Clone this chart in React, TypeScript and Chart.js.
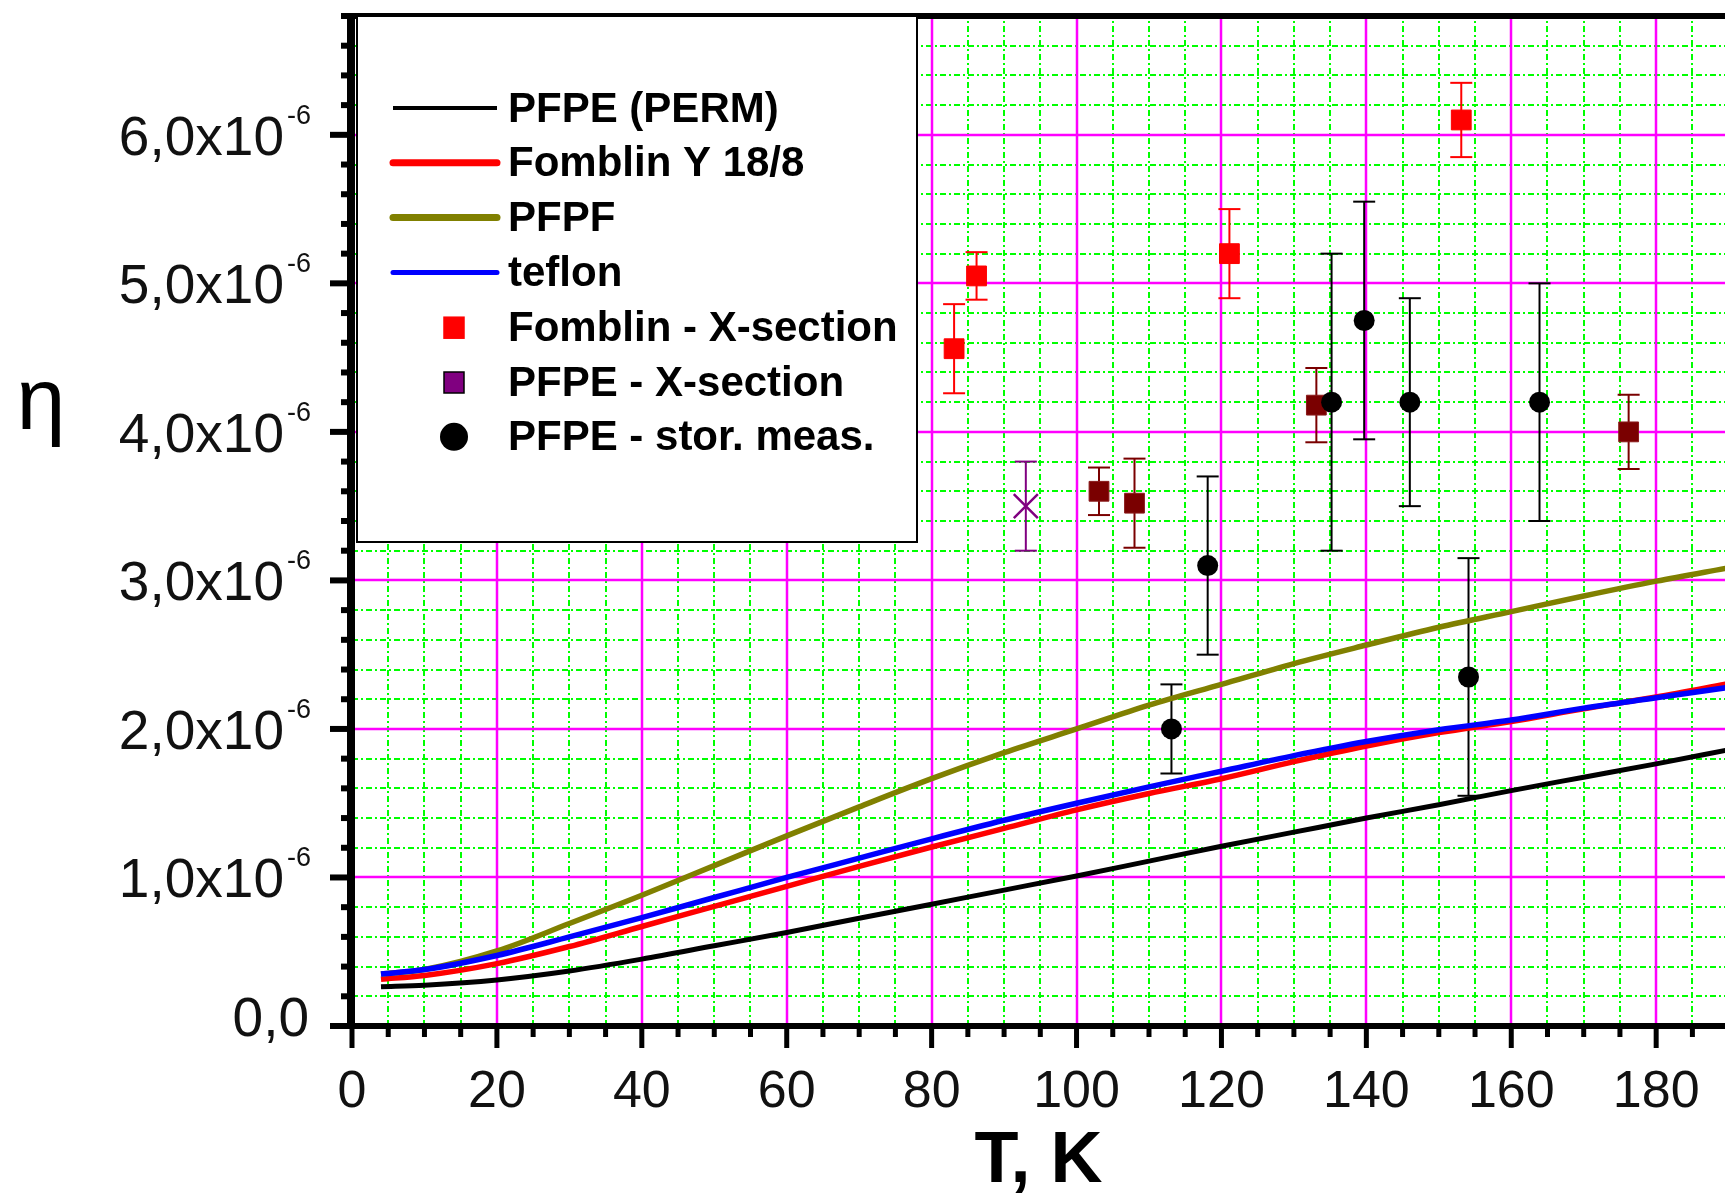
import React, { useEffect, useRef } from 'react';
import { Chart, registerables } from 'chart.js';

Chart.register(...registerables);

const FONT = '"Liberation Sans", Arial, Helvetica, sans-serif';

// ---------------- axes (eta is expressed in units of 1e-6) ----------------
const X_MIN = 0;
const X_MAX = 189.5;
const Y_MIN = 0;
const Y_MAX = 6.8;
const X_MINOR_STEP = 5;
const X_MAJOR_EVERY = 4; // 20 K
const Y_MINOR_STEP = 0.2;
const Y_MAJOR_EVERY = 5; // 1e-6
const yTickValues = [0, 1, 2, 3, 4, 5, 6];
const yTickMantissa = ['0,0', '1,0x10', '2,0x10', '3,0x10', '4,0x10', '5,0x10', '6,0x10'];
const yTickExponent = ['', '-6', '-6', '-6', '-6', '-6', '-6'];
const xTitle = 'T, K';
const yTitle = 'η';

// ---------------- series labels ----------------
const LBL_PERM = 'PFPE (PERM)';
const LBL_FOMBLIN = 'Fomblin Y 18/8';
const LBL_PFPF = 'PFPF';
const LBL_TEFLON = 'teflon';
const LBL_FOMBLIN_X = 'Fomblin - X-section';
const LBL_PFPE_X = 'PFPE - X-section';
const LBL_STOR = 'PFPE - stor. meas.';

// ---------------- curves ----------------
const curveT = [4, 10, 20, 30, 40, 50, 60, 70, 80, 90, 100, 110, 120, 130, 140, 150, 160, 170, 180, 190];
const pfpePerm = [0.265, 0.275, 0.31, 0.37, 0.45, 0.54, 0.63, 0.725, 0.82, 0.915, 1.01, 1.11, 1.21, 1.305, 1.4, 1.49, 1.585, 1.675, 1.765, 1.86];
const fomblinY = [0.315, 0.34, 0.42, 0.535, 0.67, 0.805, 0.94, 1.075, 1.205, 1.33, 1.455, 1.565, 1.665, 1.78, 1.885, 1.975, 2.05, 2.135, 2.215, 2.305];
const pfpf = [0.35, 0.38, 0.505, 0.69, 0.88, 1.08, 1.28, 1.475, 1.665, 1.84, 2.0, 2.16, 2.3, 2.44, 2.565, 2.685, 2.79, 2.895, 2.995, 3.085];
const teflon = [0.35, 0.38, 0.475, 0.6, 0.73, 0.865, 1.0, 1.13, 1.26, 1.385, 1.5, 1.61, 1.715, 1.82, 1.915, 1.995, 2.06, 2.14, 2.21, 2.28];

// ---------------- measured points ----------------
const fomblinXT = [83.1, 86.2, 121.1, 153.1];
const fomblinXEta = [4.56, 5.05, 5.2, 6.1];
const fomblinXErr = [0.3, 0.16, 0.3, 0.25];

const pfpeXT = [93.0];
const pfpeXEta = [3.5];
const pfpeXErr = [0.3];

const maroonT = [103.1, 108.0, 133.1, 176.2];
const maroonEta = [3.6, 3.52, 4.18, 4.0];
const maroonErr = [0.16, 0.3, 0.25, 0.25];

const storT = [113.1, 118.1, 135.2, 139.7, 146.0, 154.1, 163.9];
const storEta = [2.0, 3.1, 4.2, 4.75, 4.2, 2.35, 4.2];
const storErr = [0.3, 0.6, 1.0, 0.8, 0.7, 0.8, 0.8];

const RED = '#ff0000';
const OLIVE = '#808000';
const BLUE = '#0000ff';
const PURPLE = '#800080';
const MAROON = '#7a0000';

const pts = (xs: number[], ys: number[]) => xs.map((x, i) => ({ x, y: ys[i] }));

const errorSets = [
  { t: maroonT, v: maroonEta, e: maroonErr, color: MAROON },
  { t: fomblinXT, v: fomblinXEta, e: fomblinXErr, color: RED },
  { t: pfpeXT, v: pfpeXEta, e: pfpeXErr, color: PURPLE },
  { t: storT, v: storEta, e: storErr, color: '#000000' },
];

const legendItems = [
  { label: LBL_PERM, kind: 'line', color: '#000000', width: 4 },
  { label: LBL_FOMBLIN, kind: 'line', color: RED, width: 7 },
  { label: LBL_PFPF, kind: 'line', color: OLIVE, width: 7 },
  { label: LBL_TEFLON, kind: 'line', color: BLUE, width: 5 },
  { label: LBL_FOMBLIN_X, kind: 'square', color: RED, border: RED },
  { label: LBL_PFPE_X, kind: 'square', color: PURPLE, border: '#000000' },
  { label: LBL_STOR, kind: 'circle', color: '#000000', border: '#000000' },
];

const decor = {
  id: 'decor',
  beforeDatasetsDraw(chart: any) {
    const { ctx, chartArea: a, scales } = chart;
    const x = scales.x;
    const y = scales.y;
    ctx.save();
    ctx.beginPath();
    ctx.rect(a.left, a.top, a.right - a.left, a.bottom - a.top);
    ctx.clip();
    const seg = (x1: number, y1: number, x2: number, y2: number) => {
      ctx.beginPath();
      ctx.moveTo(x1, y1);
      ctx.lineTo(x2, y2);
      ctx.stroke();
    };
    // minor grid (green dash-dot)
    ctx.strokeStyle = '#00ff00';
    ctx.lineWidth = 2;
    ctx.setLineDash([6, 3, 2, 3]);
    for (let i = 1; i * X_MINOR_STEP <= X_MAX; i++) {
      if (i % X_MAJOR_EVERY === 0) continue;
      const px = Math.round(x.getPixelForValue(i * X_MINOR_STEP));
      seg(px, a.bottom, px, a.top);
    }
    for (let i = 1; i * Y_MINOR_STEP <= Y_MAX + 1e-9; i++) {
      if (i % Y_MAJOR_EVERY === 0) continue;
      const py = Math.round(y.getPixelForValue(i * Y_MINOR_STEP));
      seg(a.left, py, a.right, py);
    }
    // major grid (magenta)
    ctx.setLineDash([]);
    ctx.strokeStyle = '#ff00ff';
    ctx.lineWidth = 2.5;
    for (let i = X_MAJOR_EVERY; i * X_MINOR_STEP <= X_MAX; i += X_MAJOR_EVERY) {
      const px = Math.round(x.getPixelForValue(i * X_MINOR_STEP));
      seg(px, a.bottom, px, a.top);
    }
    for (let i = Y_MAJOR_EVERY; i * Y_MINOR_STEP <= Y_MAX + 1e-9; i += Y_MAJOR_EVERY) {
      const py = Math.round(y.getPixelForValue(i * Y_MINOR_STEP));
      seg(a.left, py, a.right, py);
    }
    // error bars
    ctx.lineWidth = 2;
    const cap = 11;
    errorSets.forEach((s) => {
      ctx.strokeStyle = s.color;
      s.t.forEach((t, i) => {
        const px = x.getPixelForValue(t);
        const yt = y.getPixelForValue(s.v[i] + s.e[i]);
        const yb = y.getPixelForValue(s.v[i] - s.e[i]);
        seg(px, yt, px, yb);
        seg(px - cap, yt, px + cap, yt);
        seg(px - cap, yb, px + cap, yb);
      });
    });
    ctx.restore();
  },
  afterDraw(chart: any) {
    const { ctx, chartArea: a, scales, width } = chart;
    const x = scales.x;
    const y = scales.y;
    ctx.save();
    const seg = (x1: number, y1: number, x2: number, y2: number) => {
      ctx.beginPath();
      ctx.moveTo(x1, y1);
      ctx.lineTo(x2, y2);
      ctx.stroke();
    };
    ctx.strokeStyle = '#000';
    ctx.lineCap = 'butt';
    // ticks on y axis
    ctx.lineWidth = 6;
    for (let i = 0; i * Y_MINOR_STEP <= Y_MAX + 1e-9; i++) {
      const py = y.getPixelForValue(i * Y_MINOR_STEP);
      const len = i % Y_MAJOR_EVERY === 0 ? 22 : 11;
      seg(a.left - len, py, a.left, py);
    }
    // ticks on x axis
    ctx.lineWidth = 5;
    for (let i = 0; i * X_MINOR_STEP <= X_MAX; i++) {
      const px = x.getPixelForValue(i * X_MINOR_STEP);
      const len = i % X_MAJOR_EVERY === 0 ? 22 : 11;
      seg(px, a.bottom, px, a.bottom + len);
    }
    // frame
    ctx.lineWidth = 8;
    seg(a.left - 1, a.top - 3, a.left - 1, a.bottom + 3);
    ctx.lineWidth = 6;
    seg(a.left - 5, a.bottom, width, a.bottom);
    seg(a.left - 5, a.top, width, a.top);

    // y tick labels with exponent
    ctx.fillStyle = '#111';
    ctx.textBaseline = 'alphabetic';
    yTickValues.forEach((v, i) => {
      const py = y.getPixelForValue(v);
      if (yTickExponent[i]) {
        ctx.font = `55px ${FONT}`;
        ctx.textAlign = 'right';
        ctx.fillText(yTickMantissa[i], a.left - 68, py + 20);
        ctx.font = `27px ${FONT}`;
        ctx.textAlign = 'left';
        ctx.fillText(yTickExponent[i], a.left - 65, py - 11);
      } else {
        ctx.font = `55px ${FONT}`;
        ctx.textAlign = 'right';
        ctx.fillText(yTickMantissa[i], a.left - 43, py + 10);
      }
    });

    // y title
    ctx.font = `88px ${FONT}`;
    ctx.textAlign = 'center';
    ctx.fillStyle = '#000';
    ctx.fillText(yTitle, 41, 429);

    // legend box
    const lx = a.left + 5;
    const ly = a.top;
    const lw = 560;
    const lh = 526;
    ctx.fillStyle = '#fff';
    ctx.fillRect(lx, ly, lw, lh);
    ctx.strokeStyle = '#000';
    ctx.lineWidth = 2;
    ctx.strokeRect(lx, ly, lw, lh);
    legendItems.forEach((it: any, i) => {
      const ry = ly + 92 + i * 54.8;
      if (it.kind === 'line') {
        ctx.strokeStyle = it.color;
        ctx.lineWidth = it.width;
        ctx.lineCap = it.width > 4 ? 'round' : 'butt';
        seg(lx + 36, ry, lx + 140, ry);
      } else if (it.kind === 'square') {
        ctx.fillStyle = it.color;
        ctx.fillRect(lx + 87, ry - 10, 20, 21);
        ctx.strokeStyle = it.border;
        ctx.lineWidth = 1.5;
        ctx.strokeRect(lx + 87, ry - 10, 20, 21);
      } else {
        ctx.fillStyle = it.color;
        ctx.beginPath();
        ctx.arc(lx + 97, ry, 14, 0, Math.PI * 2);
        ctx.fill();
      }
      ctx.fillStyle = '#000';
      ctx.font = `bold 42px ${FONT}`;
      ctx.textAlign = 'left';
      ctx.textBaseline = 'middle';
      ctx.fillText(it.label, lx + 151, ry + 2);
    });
    ctx.restore();
  },
};

export default function App() {
  const ref = useRef<HTMLCanvasElement | null>(null);
  useEffect(() => {
    if (!ref.current) return;
    const lineDs = (label: string, data: number[], color: string, width: number, order: number) => ({
      label,
      data: pts(curveT, data),
      borderColor: color,
      backgroundColor: color,
      borderWidth: width,
      pointRadius: 0,
      cubicInterpolationMode: 'monotone',
      fill: false,
      order,
    });
    const chart = new Chart(ref.current, {
      type: 'line',
      data: {
        datasets: [
          lineDs(LBL_PERM, pfpePerm, '#000000', 5, 8),
          lineDs(LBL_FOMBLIN, fomblinY, RED, 5.5, 7),
          lineDs(LBL_PFPF, pfpf, OLIVE, 5.5, 6),
          lineDs(LBL_TEFLON, teflon, BLUE, 5.5, 5),
          {
            label: 'PFPE - X-section (maroon)',
            data: pts(maroonT, maroonEta),
            showLine: false,
            pointStyle: 'rect',
            pointRadius: 14,
            pointBackgroundColor: MAROON,
            pointBorderColor: '#8a1a1a',
            pointBorderWidth: 1,
            order: 4,
          },
          {
            label: LBL_FOMBLIN_X,
            data: pts(fomblinXT, fomblinXEta),
            showLine: false,
            pointStyle: 'rect',
            pointRadius: 14,
            pointBackgroundColor: RED,
            pointBorderColor: RED,
            pointBorderWidth: 1,
            order: 3,
          },
          {
            label: LBL_PFPE_X,
            data: pts(pfpeXT, pfpeXEta),
            showLine: false,
            pointStyle: 'crossRot',
            pointRadius: 17,
            pointBackgroundColor: PURPLE,
            pointBorderColor: PURPLE,
            pointBorderWidth: 2.5,
            order: 2,
          },
          {
            label: LBL_STOR,
            data: pts(storT, storEta),
            showLine: false,
            pointStyle: 'circle',
            pointRadius: 10.5,
            pointBackgroundColor: '#000000',
            pointBorderColor: '#000000',
            pointBorderWidth: 0,
            order: 1,
          },
        ],
      } as any,
      options: {
        responsive: false,
        animation: false,
        events: [],
        layout: { autoPadding: false, padding: { top: 16, right: 0, left: 0, bottom: 0 } },
        plugins: {
          legend: { display: false },
          tooltip: { enabled: false },
          title: { display: false },
        },
        scales: {
          x: {
            type: 'linear',
            min: X_MIN,
            max: X_MAX,
            afterFit: (s: any) => {
              s.height = 169;
              s.paddingRight = 0;
            },
            grid: {
              display: true,
              drawOnChartArea: false,
              drawTicks: true,
              tickLength: 35,
              color: 'rgba(0,0,0,0)',
              tickColor: 'rgba(0,0,0,0)',
            },
            border: { display: false },
            ticks: {
              stepSize: X_MINOR_STEP,
              autoSkip: false,
              maxRotation: 0,
              minRotation: 0,
              includeBounds: false,
              padding: 0,
              color: '#111',
              font: { family: FONT, size: 52 },
              callback: (v: any) => (Math.round(v) % 20 === 0 ? String(Math.round(v)) : ''),
            },
            title: {
              display: true,
              text: xTitle,
              color: '#000',
              font: { family: FONT, size: 72, weight: 'bold', lineHeight: 1 },
              padding: { top: 0, bottom: -3 },
            },
          },
          y: {
            type: 'linear',
            min: Y_MIN,
            max: Y_MAX,
            afterFit: (s: any) => {
              s.width = 352;
            },
            grid: { display: false },
            border: { display: false },
            ticks: { display: false, stepSize: Y_MINOR_STEP },
          },
        },
      } as any,
      plugins: [decor],
    });
    return () => chart.destroy();
  }, []);
  return (
    <div style={{ position: 'fixed', left: 0, top: 0, width: 1725, height: 1195, background: '#fff' }}>
      <canvas ref={ref} width={1725} height={1195} style={{ display: 'block' }} />
    </div>
  );
}
